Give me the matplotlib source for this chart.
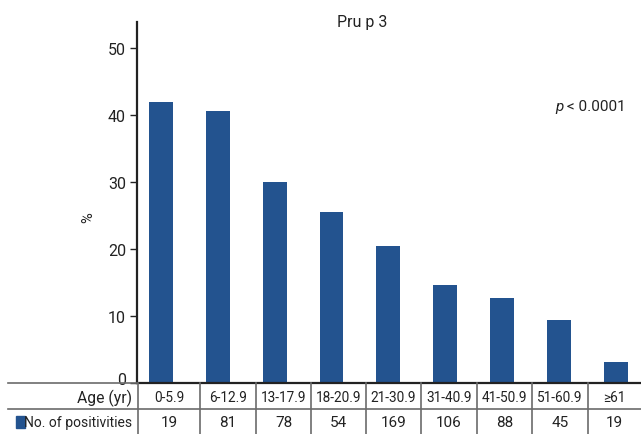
import matplotlib
matplotlib.use('Agg')
import matplotlib.pyplot as plt
import matplotlib.transforms as mtransforms
from matplotlib.lines import Line2D
from matplotlib.patches import Rectangle

plt.rcParams['font.family'] = ['Roboto', 'DejaVu Sans']

age_groups = ['0-5.9', '6-12.9', '13-17.9', '18-20.9', '21-30.9',
              '31-40.9', '41-50.9', '51-60.9', '\u226561']
percent = [41.9, 40.6, 30.0, 25.6, 20.4, 14.7, 12.7, 9.4, 3.1]
positivities = [19, 81, 78, 54, 169, 106, 88, 45, 19]
yticks = [0, 10, 20, 30, 40, 50]

W, H = 641, 435
BAR = '#23538f'
GRID = '#6b6b6b'
INK = '#222222'


def fx(px):
    return px / W


def fy(py):
    return 1 - py / H


def main():
    fig = plt.figure(figsize=(W / 100, H / 100), dpi=100)
    ax = fig.add_axes([fx(137), fy(384), fx(641) - fx(137), fy(23) - fy(384)])

    x = list(range(len(percent)))
    ax.bar(x, percent, width=0.42, color=BAR)
    ax.set_xlim(-0.42, 8.44)
    ax.set_ylim(0, 53.9)
    ax.set_yticks(yticks)
    ax.set_xticks([])
    ax.tick_params(axis='y', length=5, width=1, labelsize=11.5, colors=INK, pad=3)
    for s in ['top', 'right']:
        ax.spines[s].set_visible(False)
    for s in ['left', 'bottom']:
        ax.spines[s].set_linewidth(1.6)
        ax.spines[s].set_color(INK)

    # the "0" label sits a bit above its tick, clear of the table
    lab0 = ax.get_yticklabels()[0]
    lab0.set_transform(lab0.get_transform() +
                       mtransforms.ScaledTranslation(0, 5 / 100, fig.dpi_scale_trans))

    fig.text(fx(88), fy(218), '%', rotation=90, ha='center', va='center',
             fontsize=10.5, color=INK)
    fig.text(fx(362), fy(22), 'Pru p 3', ha='center', va='center',
             fontsize=11.5, color=INK)
    fig.text(fx(555), fy(107), 'p', ha='left', va='center',
             fontsize=11, style='italic', color=INK)
    fig.text(fx(567), fy(107), '< 0.0001', ha='left', va='center',
             fontsize=11, color=INK)

    # table under the chart
    seps = [138, 200, 256, 311, 366, 421, 477, 532, 588, 641]
    fig.add_artist(Line2D([fx(8), fx(137)], [fy(384), fy(384)],
                          color=GRID, lw=1.2))
    fig.add_artist(Line2D([fx(8), fx(641)], [fy(410), fy(410)],
                          color=GRID, lw=1.2))
    for sx in seps[:-1]:
        fig.add_artist(Line2D([fx(sx), fx(sx)], [fy(384), fy(435)],
                              color=GRID, lw=1.2))

    fig.text(fx(132), fy(398.5), 'Age (yr)', ha='right', va='center',
             fontsize=11.3, color=INK)
    fig.text(fx(132), fy(423), 'No. of positivities', ha='right', va='center',
             fontsize=10, color=INK)
    fig.add_artist(Rectangle((fx(16), fy(429)), fx(9), fy(417) - fy(429),
                             color=BAR, transform=fig.transFigure))

    for i, (lab, n) in enumerate(zip(age_groups, positivities)):
        cx = fx((seps[i] + seps[i + 1]) / 2)
        fig.text(cx, fy(398), lab, ha='center', va='center',
                 fontsize=9.8, color=INK)
        fig.text(cx, fy(423), str(n), ha='center', va='center',
                 fontsize=11, color=INK)

    fig.savefig('out.png', dpi=100)


if __name__ == '__main__':
    main()
